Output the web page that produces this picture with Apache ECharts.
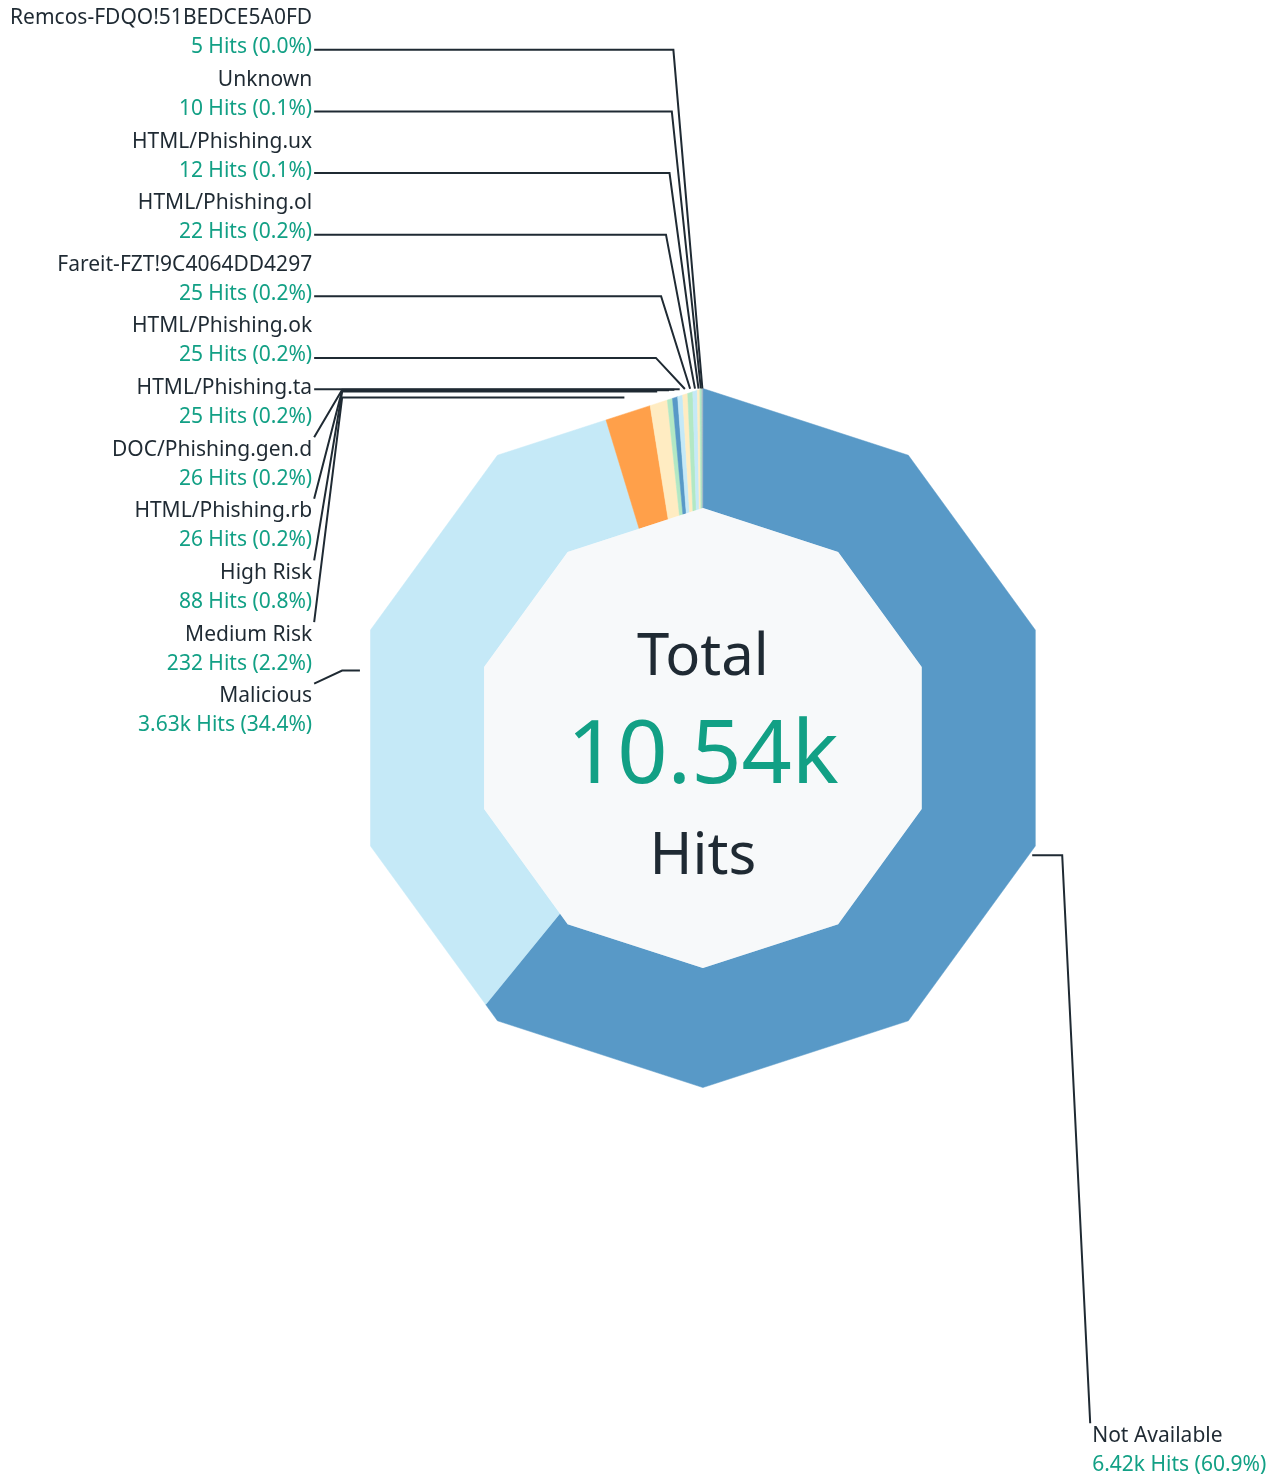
<!DOCTYPE html>
<html>
<head>
<meta charset="utf-8">
<title>Hits</title>
<script src="https://cdn.jsdelivr.net/npm/echarts@6.0.0/dist/echarts.min.js"></script>
<style>
  html, body { margin: 0; padding: 0; background: #fff; }
  #main { width: 1278px; height: 1479px; }
</style>
</head>
<body>
<div id="main"></div>
<script>
// data
var names = [
    'Not Available', 'Malicious', 'Medium Risk', 'High Risk',
    'HTML/Phishing.rb', 'DOC/Phishing.gen.d', 'HTML/Phishing.ta', 'HTML/Phishing.ok',
    'Fareit-FZT!9C4064DD4297', 'HTML/Phishing.ol', 'HTML/Phishing.ux', 'Unknown',
    'Remcos-FDQO!51BEDCE5A0FD'
];
var hits = [6417, 3627, 232, 88, 26, 26, 25, 25, 25, 22, 12, 10, 5];
var colors = [
    '#5899c7', '#c5e9f7', '#ffa04a', '#ffecc2',
    '#b2e8c4', '#5899c7', '#c5e9f7', '#ffecc2',
    '#b2e8c4', '#c5e9f7', '#ffecc2', '#b2e8c4', '#9fb6c6'
];

var FONT = '"Noto Sans", sans-serif';
var DARK = '#1f2a33';
var TEAL = '#12a085';

var total = hits.reduce(function (a, b) { return a + b; }, 0);
var cum = [0];
hits.forEach(function (v, i) { cum.push(cum[i] + v); });

var CENTER = ['55%', '49.9%'];
var RADIUS = ['36%', '54.7%'];
var SLOTS = 24; // label rows down the full height

function fmtHits(v) {
    return v >= 1000 ? (v / 1000).toFixed(2) + 'k' : String(v);
}
function fmtPct(v) {
    return (v / total * 100).toFixed(1) + '%';
}

// ring geometry, same as the pie's center / radius
function geom(w, h) {
    var size = Math.min(w, h) / 2;
    return {
        cx: w * parseFloat(CENTER[0]) / 100,
        cy: h * parseFloat(CENTER[1]) / 100,
        r0: size * parseFloat(RADIUS[0]) / 100,
        r1: size * parseFloat(RADIUS[1]) / 100
    };
}

var SEG = Math.PI / 5; // decagon

// point on a decagon (vertex at top), angle clockwise from top
function decPt(g, r, a) {
    var t = a - Math.floor(a / SEG) * SEG;
    var rr = r * Math.cos(SEG / 2) / Math.cos(t - SEG / 2);
    return [g.cx + rr * Math.sin(a), g.cy - rr * Math.cos(a)];
}

function arcPts(g, r, a0, a1) {
    var pts = [decPt(g, r, a0)];
    for (var k = Math.floor(a0 / SEG) + 1; k * SEG < a1 - 1e-9; k++) {
        pts.push(decPt(g, r, k * SEG));
    }
    pts.push(decPt(g, r, a1));
    return pts;
}

function renderSlice(params, api) {
    var g = geom(api.getWidth(), api.getHeight());
    var i = params.dataIndex;
    var a0 = cum[i] / total * Math.PI * 2;
    var a1 = a0 + api.value(0) / total * Math.PI * 2;
    var pts = arcPts(g, g.r1, a0, a1).concat(arcPts(g, g.r0, a0, a1).reverse());
    return {
        type: 'polygon',
        shape: { points: pts },
        style: { fill: colors[i], stroke: colors[i], lineWidth: 0.5 }
    };
}

function renderCenter(params, api) {
    var g = geom(api.getWidth(), api.getHeight());
    var pts = [];
    for (var k = 0; k < 10; k++) pts.push(decPt(g, g.r0, k * SEG));
    return {
        type: 'group',
        children: [{
            type: 'polygon',
            shape: { points: pts },
            style: { fill: '#f7f9fa' }
        }, {
            type: 'text', x: g.cx, y: g.cy - 80,
            style: { text: 'Total', fill: DARK, font: '58px ' + FONT, align: 'center', verticalAlign: 'middle' }
        }, {
            type: 'text', x: g.cx, y: g.cy + 20,
            style: { text: fmtHits(api.value(0)), fill: TEAL, font: '88px ' + FONT, align: 'center', verticalAlign: 'middle' }
        }, {
            type: 'text', x: g.cx, y: g.cy + 119,
            style: { text: 'Hits', fill: DARK, font: '58px ' + FONT, align: 'center', verticalAlign: 'middle' }
        }]
    };
}

var chart = echarts.init(document.getElementById('main'));
var W = chart.getWidth();
var H = chart.getHeight();

// stack the left labels from the top, the right ones from the bottom,
// guide line: ring edge -> elbow -> label
function labelLayout(p) {
    var g = geom(W, H);
    var slot = H / SLOTS;
    var i = p.dataIndex;
    var left = p.align === 'right';
    var row = left ? names.length - 1 - i : SLOTS - 1 - i;
    var c = row * slot + slot / 2;

    var mid = (cum[i] + hits[i] / 2) / total * Math.PI * 2;
    var start = [g.cx + g.r1 * Math.sin(mid), g.cy - g.r1 * Math.cos(mid)];

    var lr = p.labelRect;
    var x = left ? lr.x + lr.width : start[0] + 60;
    var endX = left ? x + 2 : x - 2;
    var endY = Math.min(Math.max(start[1], c - 25), c + 19);
    var dir = left ? 1 : -1;
    var elbow = endY < start[1]
        ? [start[0] - dir * 29, endY]
        : [endX + dir * 28, start[1]];

    return {
        x: x,
        y: c + 2,
        align: left ? 'right' : 'left',
        labelLinePoints: [start, elbow, [endX, endY]]
    };
}

chart.setOption({
    animation: false,
    textStyle: { fontFamily: FONT },
    series: [{
        type: 'custom',
        coordinateSystem: 'none',
        silent: true,
        renderItem: renderSlice,
        data: hits.map(function (v) { return [v]; })
    }, {
        type: 'custom',
        coordinateSystem: 'none',
        silent: true,
        renderItem: renderCenter,
        data: [[total]]
    }, {
        type: 'pie',
        center: CENTER,
        radius: RADIUS,
        silent: true,
        z: 5,
        itemStyle: { color: 'transparent' },
        emphasis: { disabled: true },
        label: {
            show: true,
            alignTo: 'labelLine',
            distanceToLabelLine: 2,
            formatter: function (p) {
                return '{n|' + p.name + '}\n{v|' + fmtHits(p.value) + ' Hits (' + fmtPct(p.value) + ')}';
            },
            rich: {
                n: { fontSize: 21, lineHeight: 29, color: DARK, fontFamily: FONT },
                v: { fontSize: 21, lineHeight: 29, color: TEAL, fontFamily: FONT }
            }
        },
        labelLine: {
            show: true,
            length: 12,
            length2: 34,
            lineStyle: { color: DARK, width: 2 }
        },
        labelLayout: labelLayout,
        data: names.map(function (n, i) { return { name: n, value: hits[i] }; })
    }]
});
</script>
</body>
</html>
